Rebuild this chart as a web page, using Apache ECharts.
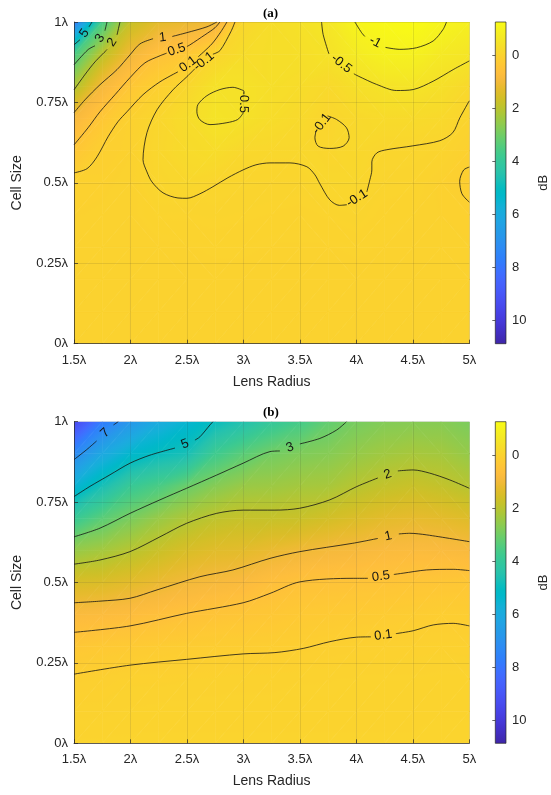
<!DOCTYPE html>
<html>
<head>
<meta charset="utf-8">
<script src="https://cdn.jsdelivr.net/npm/echarts@6/dist/echarts.min.js"></script>
<style>html,body{margin:0;padding:0;background:#fff}#chart{width:551px;height:795px}</style>
</head>
<body>
<div id="chart"></div>
<script>
// ---- axes and colour scale ----
const radiusTicks = [1.5, 2, 2.5, 3, 3.5, 4, 4.5, 5];
const cellTicks = [0, 0.25, 0.5, 0.75, 1];
const dbTicks = [0, 2, 4, 6, 8, 10];
const dbLimits = [-1.27, 10.87];

// ---- sample grid (lens radius, cell size) ----
const radiusNodes = [1.5, 1.75, 2, 2.25, 2.5, 2.75, 3, 3.25, 3.5, 3.75, 4, 4.25, 4.5, 4.75, 5];
const cellNodes = [0, 0.1, 0.2, 0.3, 0.4, 0.5, 0.6, 0.7, 0.8, 0.9, 1];

// (a) dB, one row per lens radius, cell size 0 -> 1
const lossA = [
  [0, 0, 0, 0.01, 0.02, 0.03, 0.36, 0.88, 2.15, 3.6, 7.8],
  [0, 0, 0, 0, 0.01, 0.03, 0.09, 0.33, 0.92, 1.95, 3.6],
  [0, 0, 0, 0, 0, 0, 0.02, 0.04, 0.35, 1.0, 1.8],
  [0, 0, 0, 0, -0.05, -0.12, -0.14, -0.12, 0.08, 0.5, 1.3],
  [0, 0, 0, -0.01, -0.05, -0.15, -0.25, -0.3, -0.14, 0.3, 1.15],
  [0, 0, 0, -0.02, -0.06, -0.1, -0.3, -0.52, -0.45, -0.1, 1.05],
  [0, 0, 0, -0.02, -0.05, -0.08, -0.18, -0.45, -0.45, -0.3, -0.15],
  [0, 0, 0, -0.01, -0.04, -0.07, -0.15, -0.3, -0.35, -0.35, -0.33],
  [0, 0, 0, -0.01, -0.03, -0.07, -0.15, -0.22, -0.3, -0.38, -0.45],
  [0, 0, 0, -0.01, -0.05, -0.14, -0.12, -0.09, -0.2, -0.47, -0.62],
  [0, 0, 0, -0.02, -0.07, -0.14, -0.17, -0.2, -0.38, -0.75, -1.05],
  [0, 0, 0, -0.01, -0.03, -0.06, -0.1, -0.25, -0.5, -0.95, -1.2],
  [0, 0, 0, 0, -0.02, -0.05, -0.09, -0.25, -0.53, -0.95, -1.25],
  [0, 0, 0, 0, 0.02, 0.03, -0.06, -0.2, -0.4, -0.7, -1.05],
  [0, 0, 0, 0.01, 0.05, 0.13, 0.05, -0.05, -0.2, -0.58, -0.9]
];

// (b) dB, one row per lens radius, cell size 0 -> 1
const lossB = [
  [-0.05, 0.0, 0.09, 0.33, 0.78, 1.5, 2.5, 3.9, 5.6, 7.3, 9.5],
  [-0.05, 0.0, 0.07, 0.28, 0.74, 1.45, 2.3, 3.3, 4.7, 6.1, 7.8],
  [-0.05, -0.02, 0.03, 0.24, 0.67, 1.3, 2.03, 2.87, 3.9, 5.35, 6.8],
  [-0.05, -0.03, 0.03, 0.2, 0.57, 1.13, 1.75, 2.47, 3.55, 4.95, 6.0],
  [-0.05, -0.03, 0.02, 0.17, 0.49, 0.97, 1.5, 2.15, 3.07, 4.7, 5.5],
  [-0.05, -0.03, 0.01, 0.15, 0.43, 0.87, 1.35, 1.92, 2.7, 3.75, 4.95],
  [-0.05, -0.03, 0.0, 0.15, 0.39, 0.78, 1.3, 1.8, 2.45, 3.3, 4.5],
  [-0.05, -0.03, 0.0, 0.14, 0.34, 0.6, 1.15, 1.8, 2.4, 2.95, 4.0],
  [-0.05, -0.03, -0.01, 0.11, 0.28, 0.5, 1.02, 1.75, 2.3, 2.8, 3.65],
  [-0.05, -0.03, -0.01, 0.08, 0.25, 0.47, 0.93, 1.6, 2.25, 2.7, 3.2],
  [-0.05, -0.03, -0.02, 0.06, 0.22, 0.45, 0.88, 1.45, 2.02, 2.5, 2.9],
  [-0.05, -0.03, -0.02, 0.05, 0.2, 0.43, 0.8, 1.3, 1.85, 2.35, 2.75],
  [-0.05, -0.03, -0.02, 0.04, 0.17, 0.39, 0.76, 1.23, 1.75, 2.25, 2.7],
  [-0.05, -0.04, -0.03, 0.03, 0.14, 0.37, 0.78, 1.28, 1.85, 2.3, 2.7],
  [-0.05, -0.04, -0.03, 0.04, 0.15, 0.35, 0.84, 1.4, 2.04, 2.5, 2.85]
];

// ---- contour paths [radius, cell size]; null marks the gap holding the level label ----
const a5 = [[1.5, 0.929], [1.553, 0.945], null, [1.633, 0.985], [1.659, 1.0]];
const a3 = [[1.5, 0.867], [1.624, 0.914], [1.686, 0.926], null, [1.774, 0.973], [1.792, 1.0]];
const a2 = [[1.5, 0.789], [1.6, 0.838], [1.686, 0.876], [1.792, 0.914], null, [1.881, 0.96], [1.907, 1.0]];
const a1 = [[1.5, 0.718], [1.597, 0.758], [1.73, 0.805], [1.881, 0.852], [1.996, 0.898], [2.084, 0.932], [2.2, 0.948], null,
  [2.37, 0.955], [2.5, 0.967], [2.677, 0.985], [2.765, 1.0]];
const a05 = [[1.5, 0.618], [1.624, 0.671], [1.73, 0.721], [1.863, 0.774], [1.996, 0.827], [2.128, 0.873], [2.261, 0.895], [2.32, 0.903], null,
  [2.5, 0.924], [2.527, 0.929], [2.659, 0.96], [2.748, 0.982], [2.792, 1.0]];
const a01 = [[1.5, 0.531], [1.615, 0.544], [1.704, 0.581], [1.801, 0.643], [1.889, 0.69], [1.969, 0.721], [2.111, 0.774], [2.261, 0.814], [2.42, 0.845], null,
  [2.6, 0.892], [2.721, 0.932], [2.801, 0.97], [2.854, 1.0]];
const aM01 = [[2.925, 1.0], [2.889, 0.97], [2.792, 0.911], [2.73, 0.9], null,
  [2.571, 0.855], [2.5, 0.83], [2.376, 0.789], [2.235, 0.727], [2.146, 0.656], [2.111, 0.572], [2.146, 0.534], [2.19, 0.503],
  [2.288, 0.469], [2.42, 0.453], [2.5, 0.452], [2.615, 0.466], [2.73, 0.488], [2.863, 0.516], [2.996, 0.54], [3.111, 0.556],
  [3.235, 0.562], [3.412, 0.562], [3.562, 0.55], [3.633, 0.525], [3.677, 0.497], [3.765, 0.447], [3.85, 0.43], [3.916, 0.432], null,
  [4.093, 0.472], [4.12, 0.51], [4.137, 0.54], [4.137, 0.565], [4.181, 0.593], [4.27, 0.603], [4.5, 0.615], [4.739, 0.631],
  [4.854, 0.656], [4.916, 0.702], [5.0, 0.755]];
const aM01loop = [[3.642, 0.66], null, [3.745, 0.708], [3.825, 0.697], [3.913, 0.671], [3.936, 0.64], [3.883, 0.614], [3.765, 0.607],
  [3.662, 0.614], [3.633, 0.64], [3.642, 0.66]];
const aM05loop = [[3.005, 0.786], null, [3.0, 0.718], [2.95, 0.697], [2.854, 0.687], [2.704, 0.681], [2.615, 0.696], [2.588, 0.721],
  [2.597, 0.743], [2.677, 0.771], [2.792, 0.79], [2.907, 0.797], [3.005, 0.786]];
const aM05 = [[3.692, 1.0], [3.706, 0.961], [3.757, 0.901], null, [3.978, 0.839], [4.016, 0.832], [4.179, 0.806], [4.356, 0.787],
  [4.503, 0.79], [4.68, 0.816], [4.857, 0.852], [5.0, 0.879]];
const aM1 = [[3.987, 1.0], [4.046, 0.967], [4.075, 0.955], null, [4.258, 0.921], [4.385, 0.915], [4.533, 0.92], [4.68, 0.941],
  [4.768, 0.977], [4.798, 1.0]];
const a01edge = [[5.0, 0.549], [4.95, 0.54], [4.915, 0.505], [4.935, 0.466], [5.0, 0.44]];

const b7 = [[1.5, 0.882], [1.612, 0.913], [1.7, 0.94], null, [1.85, 0.99], [1.892, 1.0]];
const b5 = [[1.5, 0.767], [1.642, 0.799], [1.819, 0.835], [1.996, 0.871], [2.173, 0.896], [2.394, 0.918], null,
  [2.571, 0.943], [2.615, 0.953], [2.704, 0.99], [2.73, 1.0]];
const b3 = [[1.5, 0.642], [1.73, 0.669], [1.996, 0.715], [2.261, 0.757], [2.497, 0.793], [2.763, 0.834], [2.998, 0.871],
  [3.235, 0.907], [3.323, 0.909], null, [3.5, 0.931], [3.677, 0.948], [3.825, 0.974], [3.913, 1.0]];
const b2 = [[1.5, 0.557], [1.73, 0.57], [1.996, 0.596], [2.261, 0.642], [2.497, 0.684], [2.763, 0.715], [2.998, 0.725],
  [3.279, 0.725], [3.5, 0.731], [3.765, 0.757], [4.002, 0.798], [4.19, 0.825], null, [4.367, 0.847], [4.503, 0.85],
  [4.65, 0.84], [4.827, 0.819], [5.0, 0.793]];
const b1 = [[1.5, 0.437], [1.73, 0.442], [1.996, 0.451], [2.235, 0.477], [2.615, 0.518], [2.907, 0.539], [3.235, 0.575],
  [3.5, 0.596], [3.969, 0.622], [4.19, 0.637], null, [4.376, 0.651], [4.473, 0.653], [4.624, 0.648], [5.0, 0.627]];
const b05 = [[1.5, 0.345], [1.996, 0.365], [2.497, 0.404], [2.998, 0.437], [3.235, 0.466], [3.5, 0.502], [3.972, 0.513],
  [4.102, 0.513], null, [4.332, 0.525], [4.414, 0.529], [4.621, 0.539], [4.857, 0.541], [5.0, 0.537]];
const b01 = [[1.5, 0.215], [1.996, 0.243], [2.497, 0.261], [2.998, 0.278], [3.279, 0.282], [3.529, 0.295], [3.765, 0.316],
  [4.002, 0.33], [4.128, 0.331], null, [4.35, 0.341], [4.503, 0.35], [4.68, 0.368], [4.857, 0.373], [5.0, 0.365]];

const contoursA = [
  { level: '5', path: a5 }, { level: '3', path: a3 }, { level: '2', path: a2 }, { level: '1', path: a1 },
  { level: '0.5', path: a05 }, { level: '0.1', path: a01 }, { level: '-0.1', path: aM01 }, { level: '-0.1', path: aM01loop },
  { level: '-0.5', path: aM05loop }, { level: '-0.5', path: aM05 }, { level: '-1', path: aM1 }, { level: '0.1', path: a01edge }
];
const contoursB = [
  { level: '7', path: b7 }, { level: '5', path: b5 }, { level: '3', path: b3 }, { level: '2', path: b2 },
  { level: '1', path: b1 }, { level: '0.5', path: b05 }, { level: '0.1', path: b01 }
];

// ---- parula colour map (64 steps) ----
const PARULA = [
[0.2422,0.1504,0.6603],[0.2504,0.1650,0.7076],[0.2578,0.1818,0.7511],[0.2647,0.1978,0.7952],[0.2706,0.2147,0.8364],
[0.2751,0.2342,0.8710],[0.2783,0.2559,0.8991],[0.2803,0.2782,0.9221],[0.2813,0.3006,0.9414],[0.2810,0.3228,0.9579],
[0.2795,0.3447,0.9717],[0.2760,0.3667,0.9829],[0.2699,0.3892,0.9906],[0.2602,0.4123,0.9952],[0.2440,0.4358,0.9988],
[0.2206,0.4603,0.9973],[0.1963,0.4847,0.9892],[0.1834,0.5074,0.9798],[0.1786,0.5289,0.9682],[0.1764,0.5499,0.9520],
[0.1687,0.5703,0.9359],[0.1540,0.5902,0.9218],[0.1460,0.6091,0.9079],[0.1380,0.6276,0.8973],[0.1248,0.6459,0.8883],
[0.1113,0.6635,0.8763],[0.0952,0.6798,0.8598],[0.0689,0.6948,0.8394],[0.0297,0.7082,0.8163],[0.0036,0.7203,0.7917],
[0.0067,0.7312,0.7660],[0.0433,0.7411,0.7394],[0.0964,0.7500,0.7120],[0.1408,0.7584,0.6842],[0.1717,0.7670,0.6554],
[0.1938,0.7758,0.6251],[0.2161,0.7843,0.5923],[0.2470,0.7918,0.5567],[0.2906,0.7973,0.5188],[0.3406,0.8008,0.4789],
[0.3909,0.8029,0.4354],[0.4456,0.8024,0.3909],[0.5044,0.7993,0.3480],[0.5616,0.7942,0.3045],[0.6174,0.7876,0.2612],
[0.6720,0.7793,0.2227],[0.7242,0.7698,0.1910],[0.7738,0.7598,0.1646],[0.8203,0.7498,0.1535],[0.8634,0.7406,0.1596],
[0.9035,0.7330,0.1774],[0.9393,0.7288,0.2100],[0.9728,0.7298,0.2394],[0.9956,0.7434,0.2371],[0.9970,0.7659,0.2199],
[0.9952,0.7893,0.2028],[0.9892,0.8136,0.1885],[0.9793,0.8386,0.1766],[0.9676,0.8639,0.1643],[0.9610,0.8890,0.1537],
[0.9597,0.9135,0.1423],[0.9628,0.9373,0.1265],[0.9691,0.9606,0.1064],[0.9769,0.9839,0.0805]];

// low dB -> yellow end, high dB -> blue end
function dbColor(v) {
  let t = 1 - (v - dbLimits[0]) / (dbLimits[1] - dbLimits[0]);
  t = Math.min(1, Math.max(0, t)) * (PARULA.length - 1);
  const i = Math.min(Math.floor(t), PARULA.length - 2), f = t - i;
  const a = PARULA[i], b = PARULA[i + 1];
  return 'rgb(' + [0, 1, 2].map(k => Math.round(255 * (a[k] + (b[k] - a[k]) * f))).join(',') + ')';
}

// linear shading across one triangle of the grid
function triangleFill(p, v) {
  const vmin = Math.min(v[0], v[1], v[2]), vmax = Math.max(v[0], v[1], v[2]);
  if (vmax - vmin < 1e-6) return dbColor(vmin);
  const [x0, y0] = p[0], [x1, y1] = p[1], [x2, y2] = p[2];
  const det = (x1 - x0) * (y2 - y0) - (x2 - x0) * (y1 - y0);
  const a = ((v[1] - v[0]) * (y2 - y0) - (y1 - y0) * (v[2] - v[0])) / det;
  const b = ((x1 - x0) * (v[2] - v[0]) - (v[1] - v[0]) * (x2 - x0)) / det;
  const s = p[v.indexOf(vmin)];
  const d = (vmax - vmin) / (a * a + b * b);
  const stops = [];
  const n = 10;
  for (let k = 0; k <= n; k++) stops.push({ offset: k / n, color: dbColor(vmin + (vmax - vmin) * k / n) });
  return new echarts.graphic.LinearGradient(s[0], s[1], s[0] + a * d, s[1] + b * d, stops, true);
}

function fieldSeries(g, values) {
  const cells = [];
  for (let i = 0; i < radiusNodes.length - 1; i++)
    for (let j = 0; j < cellNodes.length - 1; j++)
      cells.push([(radiusNodes[i] + radiusNodes[i + 1]) / 2, (cellNodes[j] + cellNodes[j + 1]) / 2, i, j]);
  return {
    type: 'custom', coordinateSystem: 'cartesian2d', xAxisIndex: g, yAxisIndex: g,
    data: cells, clip: true, silent: true, z: 1, animation: false,
    renderItem(params, api) {
      const i = api.value(2), j = api.value(3);
      const P = (di, dj) => api.coord([radiusNodes[i + di], cellNodes[j + dj]]);
      const V = (di, dj) => values[i + di][j + dj];
      const p00 = P(0, 0), p10 = P(1, 0), p01 = P(0, 1), p11 = P(1, 1);
      const v00 = V(0, 0), v10 = V(1, 0), v01 = V(0, 1), v11 = V(1, 1);
      const tris = Math.abs(v00 - v11) <= Math.abs(v10 - v01)
        ? [[[p00, p10, p11], [v00, v10, v11]], [[p00, p11, p01], [v00, v11, v01]]]
        : [[[p00, p10, p01], [v00, v10, v01]], [[p10, p11, p01], [v10, v11, v01]]];
      return {
        type: 'group',
        children: tris.map(([pts, vals]) => {
          const fill = triangleFill(pts, vals);
          return { type: 'polygon', shape: { points: pts }, style: { fill: fill, stroke: fill, lineWidth: 0.7 } };
        })
      };
    }
  };
}

function contourSeries(g, contours) {
  return contours.map(c => ({
    type: 'line', xAxisIndex: g, yAxisIndex: g, z: 4, silent: true, animation: false,
    showSymbol: false, symbol: 'none', smooth: 0.3, connectNulls: false,
    lineStyle: { color: '#141414', width: 0.8 },
    data: c.path.map(p => (p ? p : ['-', '-']))
  }));
}

function contourLabelSeries(g, contours) {
  const items = [];
  contours.forEach((c, ci) => c.path.forEach((p, k) => {
    if (p === null) {
      const u = c.path[k - 1], w = c.path[k + 1];
      items.push([(u[0] + w[0]) / 2, (u[1] + w[1]) / 2, ci, k]);
    }
  }));
  return {
    type: 'custom', coordinateSystem: 'cartesian2d', xAxisIndex: g, yAxisIndex: g,
    data: items, z: 5, silent: true, animation: false,
    renderItem(params, api) {
      const c = contours[api.value(2)], k = api.value(3);
      const p0 = api.coord(c.path[k - 1]), p1 = api.coord(c.path[k + 1]);
      let ang = Math.atan2(-(p1[1] - p0[1]), p1[0] - p0[0]);
      if (Math.abs(Math.abs(ang) - Math.PI / 2) > 0.18) {
        if (ang > Math.PI / 2) ang -= Math.PI;
        else if (ang < -Math.PI / 2) ang += Math.PI;
      }
      return {
        type: 'text', x: (p0[0] + p1[0]) / 2, y: (p0[1] + p1[1]) / 2, rotation: ang,
        style: { text: c.level, fill: '#141414', font: '13px "Liberation Sans", Arial, sans-serif', align: 'center', verticalAlign: 'middle' }
      };
    }
  };
}

function colorbarSeries(g) {
  return {
    type: 'custom', coordinateSystem: 'cartesian2d', xAxisIndex: g, yAxisIndex: g,
    data: [[0.5, dbLimits[0]]], z: 1, silent: true, animation: false,
    renderItem(params, api) {
      const a = api.coord([0, dbLimits[0]]), b = api.coord([1, dbLimits[1]]);
      const stops = [];
      const n = 63;
      for (let k = 0; k <= n; k++) stops.push({ offset: k / n, color: dbColor(dbLimits[0] + (dbLimits[1] - dbLimits[0]) * k / n) });
      const grad = new echarts.graphic.LinearGradient(a[0], a[1], a[0], b[1], stops, true);
      return {
        type: 'rect',
        shape: { x: Math.min(a[0], b[0]), y: Math.min(a[1], b[1]), width: Math.abs(b[0] - a[0]), height: Math.abs(b[1] - a[1]) },
        style: { fill: grad, stroke: '#262626', lineWidth: 0.7 }
      };
    }
  };
}

const FONT = '"Liberation Sans", Arial, Helvetica, sans-serif';
const INK = '#262626';

function mainX(g) {
  return {
    gridIndex: g, type: 'value', min: radiusTicks[0], max: radiusTicks[radiusTicks.length - 1], interval: 0.5, z: 3,
    name: 'Lens Radius', nameLocation: 'middle', nameGap: 31,
    nameTextStyle: { fontSize: 14, color: INK, fontFamily: FONT },
    axisLine: { onZero: false, lineStyle: { color: INK, width: 0.7 } },
    axisTick: { inside: true, length: 4, lineStyle: { color: INK, width: 0.7 } },
    axisLabel: { color: INK, fontSize: 13, fontFamily: FONT, margin: 10, formatter: v => v + 'λ' },
    splitLine: { show: true, lineStyle: { color: 'rgba(38,38,38,0.16)', width: 0.7 } }
  };
}
function mainY(g) {
  return {
    gridIndex: g, type: 'value', min: cellTicks[0], max: cellTicks[cellTicks.length - 1], interval: 0.25, z: 3,
    name: 'Cell Size', nameLocation: 'middle', nameGap: 50, nameRotate: 90,
    nameTextStyle: { fontSize: 14, color: INK, fontFamily: FONT },
    axisLine: { onZero: false, lineStyle: { color: INK, width: 0.7 } },
    axisTick: { inside: true, length: 4, lineStyle: { color: INK, width: 0.7 } },
    axisLabel: { color: INK, fontSize: 13, fontFamily: FONT, margin: 6, formatter: v => v + 'λ' },
    splitLine: { show: true, lineStyle: { color: 'rgba(38,38,38,0.16)', width: 0.7 } }
  };
}
function barX(g) {
  return { gridIndex: g, type: 'value', min: 0, max: 1, show: false };
}
function barY(g) {
  return {
    gridIndex: g, type: 'value', min: dbLimits[0], max: dbLimits[1], inverse: true, position: 'right', z: 3,
    name: 'dB', nameLocation: 'middle', nameGap: 31, nameRotate: 90,
    nameTextStyle: { fontSize: 13, color: INK, fontFamily: FONT },
    axisLine: { show: false },
    axisTick: { show: true, inside: true, length: 3, customValues: dbTicks, lineStyle: { color: INK, width: 0.7 } },
    axisLabel: { show: true, color: INK, fontSize: 13, fontFamily: FONT, margin: 6, customValues: dbTicks },
    splitLine: { show: false }
  };
}

const TITLE_STYLE = { fontFamily: '"Liberation Serif", "Times New Roman", serif', fontWeight: 'bold', fontSize: 13, color: '#000' };

const chart = echarts.init(document.getElementById('chart'), null, { renderer: 'canvas' });
chart.setOption({
  animation: false,
  backgroundColor: '#ffffff',
  title: [
    { text: '(a)', left: 258, top: 2, textStyle: TITLE_STYLE },
    { text: '(b)', left: 258, top: 401, textStyle: TITLE_STYLE }
  ],
  grid: [
    { left: 74, top: 22, width: 395.3, height: 321.7 },
    { left: 74, top: 421.7, width: 395.3, height: 321.6 },
    { left: 495.3, top: 22, width: 15.4, height: 321.7 },
    { left: 495.3, top: 421.7, width: 15.4, height: 321.6 }
  ],
  xAxis: [mainX(0), mainX(1), barX(2), barX(3)],
  yAxis: [mainY(0), mainY(1), barY(2), barY(3)],
  series: [
    fieldSeries(0, lossA),
    fieldSeries(1, lossB),
    ...contourSeries(0, contoursA),
    ...contourSeries(1, contoursB),
    contourLabelSeries(0, contoursA),
    contourLabelSeries(1, contoursB),
    colorbarSeries(2),
    colorbarSeries(3)
  ]
});
</script>
</body>
</html>
